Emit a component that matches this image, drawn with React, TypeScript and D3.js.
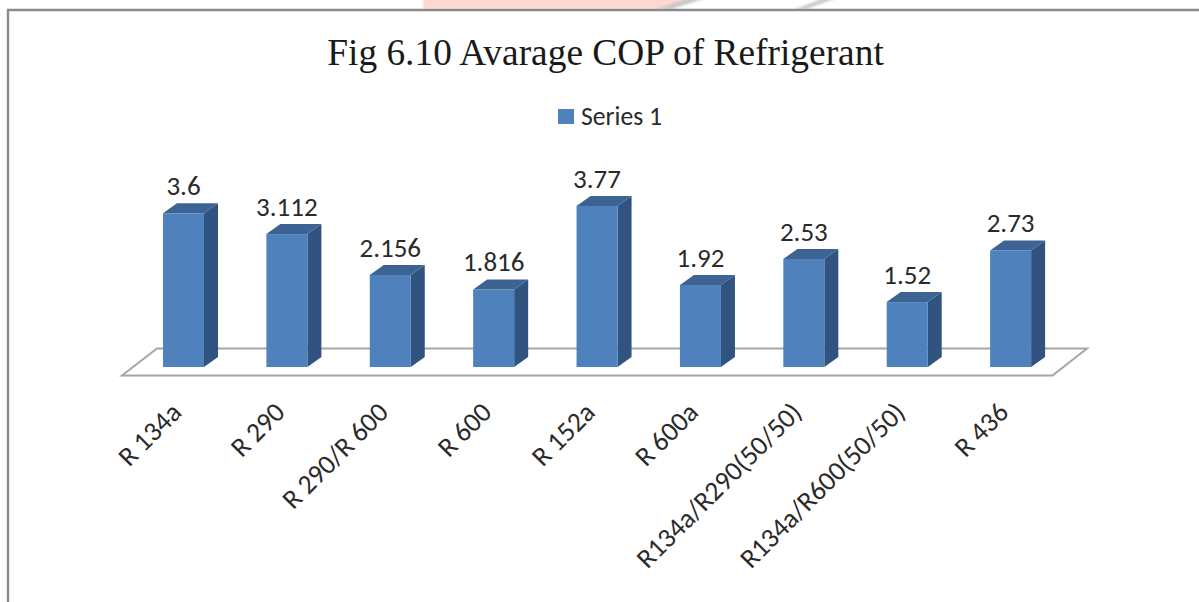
import React from "react";
import * as d3 from "d3";

const categories = ["R 134a", "R 290", "R 290/R 600", "R 600", "R 152a", "R 600a", "R134a/R290(50/50)", "R134a/R600(50/50)", "R 436"];
const values = [3.6, 3.112, 2.156, 1.816, 3.77, 1.92, 2.53, 1.52, 2.73];
const valueLabels = ["3.6", "3.112", "2.156", "1.816", "3.77", "1.92", "2.53", "1.52", "2.73"];
const seriesName = "Series 1";
const titleText = "Fig 6.10 Avarage COP of Refrigerant";

const W = 1199, H = 602;
const baseY = 367;
const DX = 14, DY = 10;
const x = d3.scaleBand<string>().domain(categories).range([131.8, 1062.3]).paddingInner(0.6).paddingOuter(0.3);
const y = d3.scaleLinear().domain([0, 3.77]).range([baseY, 206]);
const sans = "Carlito, Lato, 'Open Sans', sans-serif";
const serif = "'Liberation Serif', serif";

export default function App() {
  const bw = 41;
  const cx = (c: string) => x(c)! + x.bandwidth() / 2;
  return (
    <svg width={W} height={H} style={{ position: "fixed", left: 0, top: 0, background: "#fff" }}>
      <defs>
        <filter id="soft" x="-10%" y="-50%" width="120%" height="200%">
          <feGaussianBlur stdDeviation="1" />
        </filter>
      </defs>
      <g filter="url(#soft)">
        <polygon points="423,-4 700,-4 662,9 423,9" fill="#fdd9d0" />
        <polygon points="695,-4 713,-4 672,9 655,9" fill="#c9c9c9" />
        <polygon points="830,-4 843,-4 806,9 795,9" fill="#c9c9c9" />
      </g>
      <path d="M8,602 V10 H1199" fill="none" stroke="#8a8a8a" strokeWidth={2.4} />
      <text x={605.5} y={65} textAnchor="middle" fontFamily={serif} fontSize={37.4} fill="#1a1a1a">{titleText}</text>
      <rect x={558} y={109} width={16} height={15} fill="#4f81bd" />
      <text x={581} y={125} fontFamily={sans} textAnchor="start" fontSize={25.7} fill="#2a2a2a">{seriesName}</text>
      <path d="M122,375.5 H1052.5 L1087,348.5 H157 Z" fill="#fff" stroke="#a6a6a6" strokeWidth={2} />
      {categories.map((c, i) => {
        const x0 = cx(c) - bw / 2, x1 = x0 + bw, top = y(values[i]);
        return (
          <g key={c}>
            <polygon points={`${x1},${top} ${x1 + DX},${top - DY} ${x1 + DX},${baseY - DY} ${x1},${baseY}`} fill="#31537f" />
            <polygon points={`${x0},${top} ${x0 + DX},${top - DY} ${x1 + DX},${top - DY} ${x1},${top}`} fill="#3c6394" />
            <rect x={x0} y={top} width={bw} height={baseY - top} fill="#4f81bd" />
            <text x={cx(c)} y={top - 18} textAnchor="middle" fontFamily={sans} fontSize={27} fill="#2a2a2a">{valueLabels[i]}</text>
            <text transform={`translate(${cx(c) - 0.5},${414}) rotate(-45)`} textAnchor="end" fontFamily={sans} fontSize={27.5} fill="#2a2a2a">{c}</text>
          </g>
        );
      })}
    </svg>
  );
}
